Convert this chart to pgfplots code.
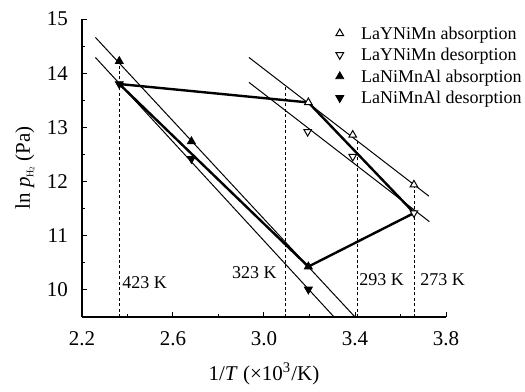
\documentclass[border=0pt]{standalone}
\usepackage{pgfplots}
\pgfplotsset{compat=1.18}
\usepackage{fontspec}
\setmainfont{Liberation Serif}
\begin{document}
\begin{tikzpicture}
\begin{axis}[
  scale only axis, width=182pt, height=149pt,
  xmin=2.2, xmax=3.8, ymin=9.5, ymax=15,
  clip mode=individual,
  axis x line*=bottom, axis y line*=left,
  axis line style={line width=0.7pt},
  xtick={2.2,2.6,3.0,3.4,3.8}, minor xtick={2.4,2.8,3.2,3.6},
  ytick={10,11,12,13,14,15}, minor ytick={10.5,11.5,12.5,13.5,14.5},
  tick align=inside, major tick length=2.5pt, minor tick length=1.3pt,
  tick style={line width=0.5pt, black},
  x tick label style={/pgf/number format/.cd, fixed, fixed zerofill, precision=1, /tikz/.cd},
  /pgf/number format/assume math mode=true,
  tick label style={font=\fontsize{10.5}{12}\selectfont},
  xticklabel style={yshift=-3.7pt},
  yticklabel style={xshift=-3.5pt},
  xlabel={1/\textit{T} (×10\textsuperscript{3}/K)},
  ylabel={ln \textit{p}\raisebox{-0.35ex}{\fontsize{5}{6}\selectfont H\raisebox{-0.25ex}{\fontsize{3.5}{4}\selectfont 2}} (Pa)},
  every axis x label/.style={at={(axis description cs:0.5,-0.19)}, anchor=center, font=\fontsize{10.5}{12}\selectfont},
  every axis y label/.style={at={(axis description cs:-0.157,0.5)}, anchor=center, rotate=90, font=\fontsize{10.5}{12}\selectfont},
  legend style={draw=none, fill=none, at={(0.684,0.9765)}, anchor=north west,
    inner sep=0pt, row sep=2.25pt, column sep=0pt,
    cells={anchor=base west},
    nodes={inner sep=0pt, text height=6.5pt, text depth=2pt, font=\fontsize{9}{11}\selectfont}},
  legend image code/.code={\path (-4pt,3pt) (10.5pt,3pt); \path[#1] plot coordinates {(0pt,3pt)};},
]
% regression lines
\addplot[forget plot, black, line width=0.5pt] coordinates {(2.259,14.66) (3.400,9.5)};
\addplot[forget plot, black, line width=0.5pt] coordinates {(2.259,14.29) (3.308,9.5)};
\addplot[forget plot, black, line width=0.5pt] coordinates {(2.934,14.29) (3.725,11.73)};
\addplot[forget plot, black, line width=0.5pt] coordinates {(2.934,13.83) (3.727,11.26)};
% dashed temperature lines
\addplot[forget plot, black, line width=0.5pt, dash pattern=on 1.5pt off 1.2pt] coordinates {(2.364,9.5) (2.364,14.18)};
\addplot[forget plot, black, line width=0.5pt, dash pattern=on 1.5pt off 1.2pt] coordinates {(3.096,9.5) (3.096,13.77)};
\addplot[forget plot, black, line width=0.5pt, dash pattern=on 1.5pt off 1.2pt] coordinates {(3.413,9.5) (3.413,12.76)};
\addplot[forget plot, black, line width=0.5pt, dash pattern=on 1.5pt off 1.2pt] coordinates {(3.663,9.5) (3.663,11.90)};
% cycle
\addplot[forget plot, black, line width=1.2pt] coordinates {(2.364,13.80) (3.195,13.46) (3.660,11.42) (3.195,10.43) (2.364,13.80)};
% data
\addplot[only marks, mark=triangle*, mark size=2.2pt, mark options={fill=white, draw=black, line width=0.5pt}] coordinates {(3.195,13.46) (3.39,12.86) (3.659,11.94)};
\addlegendentry{LaYNiMn absorption}
\addplot[only marks, mark=triangle*, mark size=2.2pt, mark options={rotate=180, fill=white, draw=black, line width=0.5pt}] coordinates {(3.192,12.92) (3.39,12.46) (3.659,11.42)};
\addlegendentry{LaYNiMn desorption}
\addplot[only marks, mark=triangle*, mark size=2.3pt, mark options={fill=black, draw=black}] coordinates {(2.364,14.22) (2.681,12.74) (3.195,10.43)};
\addlegendentry{LaNiMnAl absorption}
\addplot[only marks, mark=triangle*, mark size=2.3pt, mark options={rotate=180, fill=black, draw=black}] coordinates {(2.364,13.80) (2.681,12.42) (3.195,10.01)};
\addlegendentry{LaNiMnAl desorption}
% temperature labels
\node[anchor=west, inner sep=0pt, font=\fontsize{9}{11}\selectfont] at (axis cs:2.376,10.14) {423 K};
\node[anchor=east, inner sep=0pt, font=\fontsize{9}{11}\selectfont] at (axis cs:3.057,10.32) {323 K};
\node[anchor=west, inner sep=0pt, font=\fontsize{9}{11}\selectfont] at (axis cs:3.418,10.19) {293 K};
\node[anchor=west, inner sep=0pt, font=\fontsize{9}{11}\selectfont] at (axis cs:3.686,10.19) {273 K};
\end{axis}
\path (current axis.south west) ++(-41pt,-35pt) rectangle ([shift={(39.5pt,9.5pt)}]current axis.north east);
\end{tikzpicture}
\end{document}
